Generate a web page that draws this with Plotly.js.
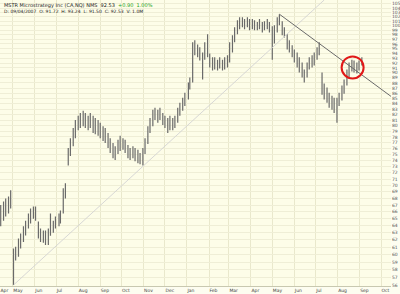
<!DOCTYPE html>
<html><head><meta charset="utf-8">
<script src="https://cdn.plot.ly/plotly-3.0.1.min.js"></script>
<style>html,body{margin:0;padding:0;background:#fff}#c{width:400px;height:294px}</style>
</head><body><div id="c"></div>
<script>
const dates = ["2006-04-14","2006-04-18","2006-04-21","2006-04-25","2006-04-28","2006-05-02","2006-05-05","2006-05-09","2006-05-12","2006-05-16","2006-05-19","2006-05-23","2006-05-26","2006-05-30","2006-06-02","2006-06-06","2006-06-09","2006-06-13","2006-06-16","2006-06-20","2006-06-23","2006-06-27","2006-06-30","2006-07-05","2006-07-07","2006-07-11","2006-07-14","2006-07-18","2006-07-21","2006-07-25","2006-07-28","2006-08-01","2006-08-04","2006-08-08","2006-08-11","2006-08-15","2006-08-18","2006-08-22","2006-08-25","2006-08-29","2006-09-01","2006-09-05","2006-09-08","2006-09-12","2006-09-15","2006-09-19","2006-09-22","2006-09-26","2006-09-29","2006-10-03","2006-10-06","2006-10-10","2006-10-13","2006-10-17","2006-10-20","2006-10-24","2006-10-27","2006-10-31","2006-11-03","2006-11-07","2006-11-10","2006-11-14","2006-11-17","2006-11-21","2006-11-24","2006-11-28","2006-12-01","2006-12-05","2006-12-08","2006-12-12","2006-12-15","2006-12-19","2006-12-22","2006-12-26","2006-12-29","2007-01-03","2007-01-05","2007-01-09","2007-01-12","2007-01-16","2007-01-19","2007-01-23","2007-01-26","2007-01-30","2007-02-02","2007-02-06","2007-02-09","2007-02-13","2007-02-16","2007-02-20","2007-02-23","2007-02-27","2007-03-02","2007-03-06","2007-03-09","2007-03-13","2007-03-16","2007-03-20","2007-03-23","2007-03-27","2007-03-30","2007-04-03","2007-04-06","2007-04-10","2007-04-13","2007-04-17","2007-04-20","2007-04-24","2007-04-27","2007-05-01","2007-05-04","2007-05-08","2007-05-11","2007-05-15","2007-05-18","2007-05-22","2007-05-25","2007-05-29","2007-06-01","2007-06-05","2007-06-08","2007-06-12","2007-06-15","2007-06-19","2007-06-22","2007-06-26","2007-06-29","2007-07-03","2007-07-06","2007-07-10","2007-07-13","2007-07-17","2007-07-20","2007-07-24","2007-07-27","2007-07-31","2007-08-03","2007-08-07","2007-08-10","2007-08-14","2007-08-17","2007-08-21","2007-08-24","2007-08-28","2007-08-31","2007-09-04"];
const openP = [65.0,65.75,66.5,67.25,67.7,60.1,59.4,60.1,61.5,62.2,63.1,63.9,65.0,65.75,66.05,64.3,62.9,62.6,62.4,62.2,62.7,63.9,64.1,64.7,65.3,66.5,68.78,73.6,75.25,76.96,78.7,79.9,80.7,81.4,81.8,81.0,80.5,81.4,79.9,79.6,79.2,78.9,78.2,77.8,76.96,76.1,75.25,75.8,76.4,76.96,76.8,76.4,75.8,75.25,75.6,75.1,74.75,74.4,75.25,76.96,79.2,80.5,81.8,82.3,81.8,82.1,81.4,80.5,79.6,80.7,80.3,81.0,82.3,83.25,84.2,85.15,87.1,89.1,94.2,95.3,94.6,94.0,93.2,94.8,93.6,92.5,91.9,92.1,91.7,92.3,91.5,92.1,92.5,95.3,97.0,98.5,100.1,100.8,101.0,100.3,100.8,100.3,100.6,100.1,99.9,100.3,99.65,100.1,100.3,99.65,96.35,99.0,100.8,100.3,99.2,97.9,96.35,95.3,94.2,93.6,92.7,91.5,90.1,89.5,91.1,92.1,92.7,93.2,94.2,89.5,87.5,86.1,85.5,84.8,84.0,83.6,84.2,85.15,86.7,87.9,89.5,91.1,91.7,91.1,91.1,91.7];
const highP = [67.0,67.55,68.0,68.3,69.25,60.8,61.05,62.2,62.9,63.9,64.7,65.75,66.5,66.8,66.8,64.6,63.6,63.3,63.3,63.6,65.75,64.7,65.3,65.75,66.2,69.56,70.34,76.1,77.8,79.6,81.0,81.8,82.3,82.7,82.3,81.8,82.3,81.8,81.4,81.0,80.5,79.9,79.6,78.7,77.8,76.96,76.4,77.5,78.2,77.8,77.5,76.6,76.1,76.4,76.1,75.8,75.25,76.1,77.8,79.9,81.4,82.9,83.25,82.9,83.25,82.3,81.8,81.4,81.8,81.4,81.8,83.25,84.2,85.15,86.1,88.07,89.1,96.35,96.8,95.9,95.3,94.2,96.35,98.1,94.0,93.2,93.2,92.7,93.2,92.7,93.2,93.6,96.35,97.9,99.65,101.2,101.9,101.9,101.5,101.9,101.5,101.5,101.2,100.8,101.5,100.8,101.0,101.5,100.8,99.9,100.1,101.9,102.6,101.0,99.65,98.1,96.8,95.7,94.8,94.2,93.2,92.1,90.7,92.1,93.2,93.6,94.2,95.3,96.35,90.1,87.9,87.1,86.1,85.5,85.15,85.15,86.1,87.5,88.7,90.7,92.1,92.7,92.5,92.1,92.5,93.2];
const lowP = [63.9,64.7,65.3,65.75,66.5,56.05,59.2,59.7,60.8,61.7,62.6,63.6,64.3,65.0,64.7,62.2,61.7,61.6,61.3,61.3,62.58,63.0,63.6,63.9,64.3,65.75,68.0,73.2,74.75,76.4,77.8,79.2,79.6,79.9,79.6,79.2,79.6,78.7,78.5,78.2,77.8,77.3,76.96,76.1,75.25,74.4,74.1,75.1,75.6,75.8,75.25,74.4,74.1,74.4,73.9,73.57,73.4,73.2,75.1,76.8,78.7,79.9,81.0,80.5,81.0,80.1,79.6,78.7,79.2,79.2,79.6,80.5,81.8,82.7,83.6,84.8,86.7,88.07,93.6,93.2,92.5,88.7,92.7,93.2,91.1,90.5,90.7,90.5,90.9,90.5,90.7,91.1,92.1,94.2,96.35,98.1,99.2,99.65,99.2,99.65,99.0,99.2,99.0,99.0,99.2,98.5,99.0,99.2,98.5,92.7,96.1,98.5,100.1,97.9,97.4,94.8,94.2,93.2,92.1,91.1,90.1,89.1,88.07,89.1,90.7,91.1,91.5,92.7,93.6,85.7,84.8,84.2,83.25,82.9,82.3,80.5,83.6,84.6,85.9,87.5,89.1,90.3,90.1,89.9,90.5,91.5];
const closeP = [65.75,66.5,67.25,67.7,68.0,59.4,60.1,61.5,62.2,63.1,63.9,65.0,65.75,66.05,65.6,62.9,62.6,62.4,62.2,62.7,63.9,64.1,64.7,65.3,65.6,68.78,69.56,75.25,76.96,78.7,79.9,80.7,81.4,81.8,81.0,80.5,81.4,79.9,79.6,79.2,78.9,78.2,77.8,76.96,76.1,75.25,75.8,76.4,76.96,76.8,76.4,75.8,75.25,75.6,75.1,74.75,74.4,75.25,76.96,79.2,80.5,81.8,82.3,81.8,82.1,81.4,80.5,79.6,80.7,80.3,81.0,82.3,83.25,84.2,85.15,87.1,88.5,94.2,95.3,94.6,94.0,93.2,94.8,94.2,92.5,91.9,92.1,91.7,92.3,91.5,92.1,92.5,95.3,97.0,98.5,100.1,100.8,101.0,100.3,100.8,100.3,100.6,100.1,99.9,100.3,99.65,100.1,100.3,99.65,96.35,99.0,100.8,101.5,99.2,98.5,96.35,95.3,94.2,93.6,92.7,91.5,90.1,89.5,91.1,92.1,92.7,93.2,94.2,95.3,87.5,86.1,85.5,84.8,84.0,83.6,84.2,85.15,86.7,87.9,89.5,91.1,91.7,91.1,90.7,91.7,92.53];

// trendlines (date, price) and highlighted area
const upLineDates = ["2006-05-02","2007-07-13"];
const upLinePrices = [56.05,105.9];
const downLineDates = ["2007-05-11","2007-10-15"];
const downLinePrices = [102.6,85.4];
const circleDate = ["2007-08-22"];
const circlePrice = [91.1];

const monthTicks = ["2006-04-13","2006-05-01","2006-06-01","2006-07-01","2006-08-01","2006-09-01","2006-10-01","2006-11-01","2006-12-01","2007-01-01","2007-02-01","2007-03-01","2007-04-01","2007-05-01","2007-06-01","2007-07-01","2007-08-01","2007-09-01","2007-10-01"];
const monthLabels = ["Apr","May","Jun","Jul","Aug","Sep","Oct","Nov","Dec","Jan","Feb","Mar","Apr","May","Jun","Jul","Aug","Sep","Oct"];
const priceTicks = [];
for (let p = 56; p <= 105; p++) priceTicks.push(p);

const titleLine1 = 'MSTR Microstrategy Inc (CA,NQ) NMS  92.53  <span style="color:#1aa01a">+0.90  1.00%</span>';
const titleLine2 = 'D: 09/04/2007  O: 91.72  H: 93.24  L: 91.50  C: 92.53  V: 1.0M';

const yMin = 55.93, yMax = 105.9;

const traces = [
  {type:'ohlc', x:dates, open:openP, high:highP, low:lowP, close:closeP,
   increasing:{line:{color:'#6a6a6a', width:1.2}}, decreasing:{line:{color:'#6a6a6a', width:1.2}},
   tickwidth:0.35, hoverinfo:'skip', showlegend:false},
  {type:'scatter', mode:'lines', x:upLineDates, y:upLinePrices, line:{color:'#d2d2d2', width:0.9}, hoverinfo:'skip', showlegend:false},
  {type:'scatter', mode:'lines', x:downLineDates, y:downLinePrices, line:{color:'#6a6a6a', width:1}, hoverinfo:'skip', showlegend:false},
  {type:'scatter', mode:'markers', x:circleDate, y:circlePrice, marker:{symbol:'circle-open', size:22, color:'#e01818', line:{width:2, color:'#e01818'}}, hoverinfo:'skip', showlegend:false}
];

const layout = {
  width:400, height:294,
  margin:{l:0, r:9, t:0, b:8, pad:0},
  paper_bgcolor:'#fdfdf0', plot_bgcolor:'#fdfde8',
  font:{family:'DejaVu Sans, Arial, sans-serif', size:5, color:'#333'},
  showlegend:false,
  xaxis:{type:'date', range:['2006-04-13','2007-10-15'], tickmode:'array', tickvals:monthTicks, ticktext:monthLabels,
    tickangle:0, showgrid:true, gridcolor:'#e9e8cc', gridwidth:1, ticks:'', ticklabelposition:'outside right',
    showline:true, linecolor:'#c8c8b0', linewidth:1, zeroline:false, rangeslider:{visible:false}, tickfont:{size:4.5, color:'#444'}, fixedrange:true},
  yaxis:{type:'log', side:'right', range:[Math.log10(yMin), Math.log10(yMax)], tickmode:'array', tickvals:priceTicks, ticktext:priceTicks.map(String),
    showgrid:true, gridcolor:'#efeed6', gridwidth:1, ticks:'', showline:false, zeroline:false, tickfont:{size:4.5, color:'#555'}, fixedrange:true},
  annotations:[
    {xref:'paper', yref:'paper', x:0.005, y:1, xanchor:'left', yanchor:'top', text:titleLine1, showarrow:false, font:{size:5, color:'#222'}},
    {xref:'paper', yref:'paper', x:0.005, y:0.977, xanchor:'left', yanchor:'top', text:titleLine2, showarrow:false, font:{size:4.5, color:'#222'}}
  ]
};

Plotly.newPlot('c', traces, layout, {displayModeBar:false, staticPlot:true});
</script>
</body></html>
